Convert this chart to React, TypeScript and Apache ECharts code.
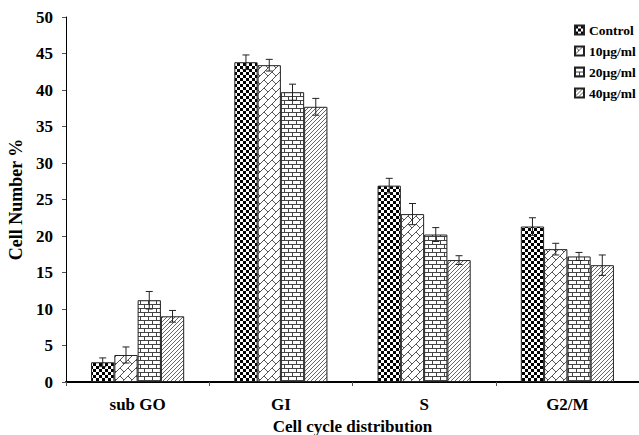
import React, { useEffect, useRef } from 'react';
import * as echarts from 'echarts';

const categories = ['sub GO', 'GI', 'S', 'G2/M'];
const seriesNames = ['Control', '10µg/ml', '20µg/ml', '40µg/ml'];
const controlValues = [2.7, 43.8, 26.9, 21.3];
const dose10Values = [3.7, 43.4, 23.0, 18.2];
const dose20Values = [11.2, 39.7, 20.2, 17.2];
const dose40Values = [9.0, 37.7, 16.7, 16.0];
const controlErrors = [0.6, 1.0, 1.0, 1.2];
const dose10Errors = [1.1, 0.8, 1.45, 0.8];
const dose20Errors = [1.2, 1.1, 0.95, 0.55];
const dose40Errors = [0.8, 1.15, 0.6, 1.4];

const FONT = '"Liberation Serif", "Times New Roman", serif';

function tile(w: number, h: number, draw: (ctx: CanvasRenderingContext2D) => void) {
  const c = document.createElement('canvas');
  c.width = w;
  c.height = h;
  const ctx = c.getContext('2d') as CanvasRenderingContext2D;
  ctx.fillStyle = '#fff';
  ctx.fillRect(0, 0, w, h);
  draw(ctx);
  return c;
}

function makePatterns() {
  const checker = tile(6, 6, (ctx) => {
    ctx.fillStyle = '#000';
    ctx.fillRect(0, 0, 3, 3);
    ctx.fillRect(3, 3, 3, 3);
  });
  const diagBrick = tile(16, 16, (ctx) => {
    ctx.strokeStyle = '#555';
    ctx.lineWidth = 1;
    ctx.beginPath();
    const pt = (s: number, t: number) => [(s + t) / 2, (s - t) / 2];
    for (let k = -4; k <= 8; k++) {
      const s = 8 * k;
      const a = pt(s, -40);
      const b = pt(s, 40);
      ctx.moveTo(a[0], a[1]);
      ctx.lineTo(b[0], b[1]);
      for (let m = -4; m <= 4; m++) {
        const t = 16 * m + (Math.abs(k) % 2 === 1 ? 8 : 0);
        const p = pt(s, t);
        const q = pt(s + 8, t);
        ctx.moveTo(p[0], p[1]);
        ctx.lineTo(q[0], q[1]);
      }
    }
    ctx.stroke();
  });
  const bricks = tile(8, 8, (ctx) => {
    ctx.strokeStyle = '#444';
    ctx.lineWidth = 1;
    ctx.beginPath();
    ctx.moveTo(0, 0.5); ctx.lineTo(8, 0.5);
    ctx.moveTo(0, 4.5); ctx.lineTo(8, 4.5);
    ctx.moveTo(0.5, 0); ctx.lineTo(0.5, 4.5);
    ctx.moveTo(4.5, 4.5); ctx.lineTo(4.5, 8);
    ctx.stroke();
  });
  const hatch = tile(4, 4, (ctx) => {
    ctx.strokeStyle = '#555';
    ctx.lineWidth = 0.9;
    ctx.beginPath();
    for (let k = -1; k <= 3; k++) {
      const s = 4 * k;
      ctx.moveTo(-2, s + 2);
      ctx.lineTo(s + 2, -2);
    }
    ctx.stroke();
  });
  return [checker, diagBrick, bricks, hatch];
}

export default function App() {
  const ref = useRef<HTMLDivElement>(null);
  useEffect(() => {
    if (!ref.current) return;
    const chart = echarts.init(ref.current, undefined, { renderer: 'svg' });
    const patterns = makePatterns();
    const values = [controlValues, dose10Values, dose20Values, dose40Values];
    const errors = [controlErrors, dose10Errors, dose20Errors, dose40Errors];
    const errData: number[][] = [];
    values.forEach((vals, s) => {
      vals.forEach((v, c) => {
        errData.push([c, s, v - errors[s][c], v + errors[s][c]]);
      });
    });
    const barSeries = seriesNames.map((name, i) => ({
      name,
      type: 'bar',
      data: values[i],
      barGap: '0%',
      barCategoryGap: '35%',
      itemStyle: {
        color: { image: patterns[i], repeat: 'repeat' },
        borderColor: '#222',
        borderWidth: 1,
      },
    }));
    chart.setOption({
      animation: false,
      backgroundColor: '#fff',
      grid: { left: 66, right: 0, top: 17, bottom: 53, outerBoundsMode: 'none', containLabel: false },
      legend: {
        orient: 'vertical',
        left: 574,
        top: 23,
        padding: 0,
        itemWidth: 9,
        itemHeight: 9,
        itemGap: 7,
        icon: 'rect',
        data: seriesNames,
        textStyle: { fontFamily: FONT, fontWeight: 'bold', fontSize: 13.5, color: '#000' },
      },
      xAxis: {
        type: 'category',
        data: categories,
        name: 'Cell cycle distribution',
        nameLocation: 'middle',
        nameGap: 31,
        nameTextStyle: { fontFamily: FONT, fontWeight: 'bold', fontSize: 17, lineHeight: 17, color: '#000' },
        axisLine: { lineStyle: { color: '#000', width: 2 } },
        axisTick: { show: true, length: 4, lineStyle: { color: '#555' } },
        axisLabel: { fontFamily: FONT, fontWeight: 'bold', fontSize: 17, color: '#000', margin: 14 },
      },
      yAxis: {
        type: 'value',
        min: 0,
        max: 50,
        interval: 5,
        name: 'Cell Number %',
        nameLocation: 'middle',
        nameGap: 37,
        nameTextStyle: { fontFamily: FONT, fontWeight: 'bold', fontSize: 18, color: '#000' },
        axisLine: { show: true, lineStyle: { color: '#000', width: 1 } },
        axisTick: { show: true, length: 4, lineStyle: { color: '#555' } },
        splitLine: { show: false },
        axisLabel: { fontFamily: FONT, fontWeight: 'bold', fontSize: 17, color: '#000', margin: 13 },
      },
      series: [
        ...barSeries,
        {
          type: 'custom',
          name: 'errors',
          z: 10,
          data: errData,
          encode: { x: 0, y: [2, 3] },
          renderItem: (params: any, api: any) => {
            const cat = api.value(0);
            const s = api.value(1);
            const lo = api.coord([cat, api.value(2)]);
            const hi = api.coord([cat, api.value(3)]);
            const band = api.size([1, 0])[0];
            const bw = (band * 0.65) / 4;
            const x = lo[0] + (s - 1.5) * bw;
            const cap = 3.5;
            const style = { stroke: '#222', lineWidth: 1 };
            return {
              type: 'group',
              children: [
                { type: 'line', shape: { x1: x, y1: lo[1], x2: x, y2: hi[1] }, style },
                { type: 'line', shape: { x1: x - cap, y1: hi[1], x2: x + cap, y2: hi[1] }, style },
                { type: 'line', shape: { x1: x - cap, y1: lo[1], x2: x + cap, y2: lo[1] }, style },
              ],
            };
          },
        },
      ],
    });
    return () => chart.dispose();
  }, []);
  return <div ref={ref} style={{ position: 'fixed', left: 0, top: 0, width: 639, height: 435 }} />;
}
